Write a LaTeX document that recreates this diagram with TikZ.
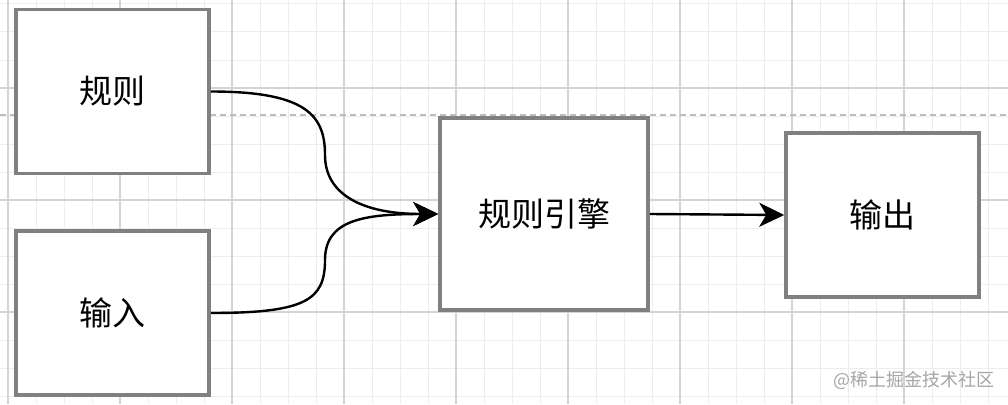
\documentclass[tikz,border=0pt]{standalone}
\usepackage{fontspec}
\newfontfamily\cjk{Noto Sans CJK SC}
\usetikzlibrary{arrows.meta}
\definecolor{boxgray}{HTML}{808080}
\definecolor{gridmajor}{HTML}{D4D4D4}
\definecolor{gridminor}{HTML}{EDEDED}
\definecolor{dashgray}{HTML}{BDBDBD}
\begin{document}
\begin{tikzpicture}[x=1pt,y=-1pt,
  box/.style={draw=boxgray,line width=3.5pt,fill=white,minimum width=193pt,minimum height=164pt,
              font=\cjk\fontsize{33}{40}\selectfont,inner sep=0pt},
  link/.style={line width=2.4pt,-{Stealth[length=25pt,width=24pt,inset=7pt]}},
  minorline/.style={gridminor,line width=1pt},
  majorline/.style={gridmajor,line width=1.2pt}]
\useasboundingbox (0,0) rectangle (1008,404);
\fill[white] (0,0) rectangle (1008,404);
% grid
\foreach \x in {8,36,...,1008} \draw[minorline] (\x,0) -- (\x,404);
\foreach \y in {4,32,...,404} \draw[minorline] (0,\y) -- (1008,\y);
\foreach \x in {8,120,...,1008} \draw[majorline] (\x,0) -- (\x,404);
\foreach \y in {88,200,312} \draw[majorline] (0,\y) -- (1008,\y);
\draw[dashgray,line width=1.5pt,dash pattern=on 6pt off 4pt] (0,115) -- (1008,115);
% boxes
\node[box] (rule) at (112.5,91.5) {规则};
\node[box] (input) at (112.5,313) {输入};
\node[box,minimum width=208pt,minimum height=192pt] (engine) at (544,214) {规则引擎};
\node[box] (output) at (882.5,215) {输出};
\coordinate (upmid) at (325,155);
\coordinate (lowmid) at (325,260);
% edges
\draw[link] (rule.east) .. controls +(95,0) and +(0,-40) .. (upmid) .. controls +(0,40) and +(-75,0) .. (engine.west);
\draw[link] (input.east) .. controls +(95,0) and +(0,40) .. (lowmid) .. controls +(0,-40) and +(-75,0) .. (engine.west);
\draw[link] (engine.east) -- (output.west);
\node[anchor=east,text=gray!70,font=\cjk\fontsize{18}{22}\selectfont,inner sep=0pt] (mark) at (995,380) {@稀土掘金技术社区};
\end{tikzpicture}
\end{document}
